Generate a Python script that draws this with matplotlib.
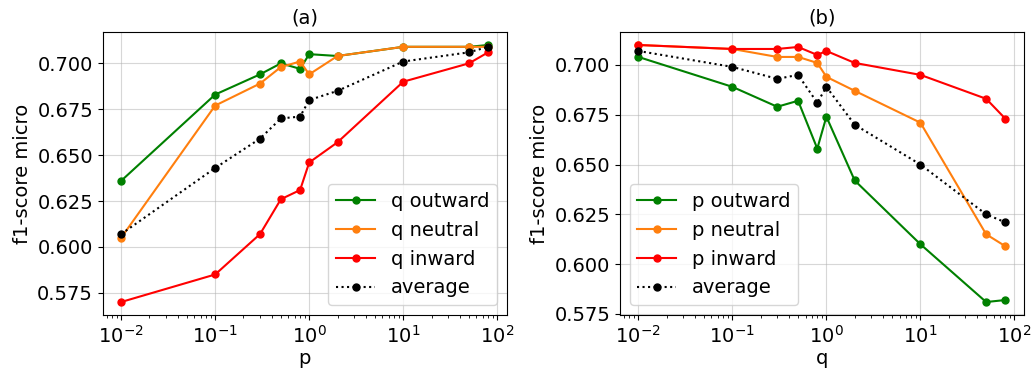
import matplotlib
matplotlib.use("Agg")
import matplotlib.pyplot as plt

x = [0.01, 0.1, 0.3, 0.5, 0.8, 1, 2, 10, 50, 80]

# (a) varying p
a_outward = [0.636, 0.683, 0.694, 0.700, 0.697, 0.705, 0.704, 0.709, 0.709, 0.710]
a_neutral = [0.605, 0.677, 0.689, 0.698, 0.701, 0.694, 0.704, 0.709, 0.709, 0.709]
a_inward = [0.570, 0.585, 0.607, 0.626, 0.631, 0.646, 0.657, 0.690, 0.700, 0.706]
a_average = [0.607, 0.643, 0.659, 0.670, 0.671, 0.680, 0.685, 0.701, 0.706, 0.709]

# (b) varying q
b_outward = [0.704, 0.689, 0.679, 0.682, 0.658, 0.674, 0.642, 0.610, 0.581, 0.582]
b_neutral = [0.710, 0.708, 0.704, 0.704, 0.701, 0.694, 0.687, 0.671, 0.615, 0.609]
b_inward = [0.710, 0.708, 0.708, 0.709, 0.705, 0.707, 0.701, 0.695, 0.683, 0.673]
b_average = [0.707, 0.699, 0.693, 0.695, 0.681, 0.689, 0.670, 0.650, 0.625, 0.621]

plt.rcParams["font.size"] = 14

fig, (ax1, ax2) = plt.subplots(1, 2, figsize=(10.33, 3.78), dpi=100)


def panel(ax, outward, neutral, inward, average, pref, xlabel, titulo, loc):
    ax.plot(x, outward, "o-", color="green", ms=5, label=f"{pref} outward")
    ax.plot(x, neutral, "o-", color="tab:orange", ms=5, label=f"{pref} neutral")
    ax.plot(x, inward, "o-", color="red", ms=5, label=f"{pref} inward")
    ax.plot(x, average, "o:", color="black", ms=5, label="average")
    ax.set_xscale("log")
    ax.set_xlabel(xlabel, labelpad=2)
    ax.set_title(titulo, fontsize=14)
    ax.grid(alpha=0.5)
    ax.legend(loc=loc)


panel(ax1, a_outward, a_neutral, a_inward, a_average, "q", "p", "(a)", "lower right")
panel(ax2, b_outward, b_neutral, b_inward, b_average, "p", "q", "(b)", "lower left")
ax1.set_ylabel("f1-score micro")
ax2.set_ylabel("f1-score micro")

fig.subplots_adjust(left=0.0995, right=0.991, top=0.915, bottom=0.167, wspace=0.281)
fig.savefig("out.png", dpi=100)
